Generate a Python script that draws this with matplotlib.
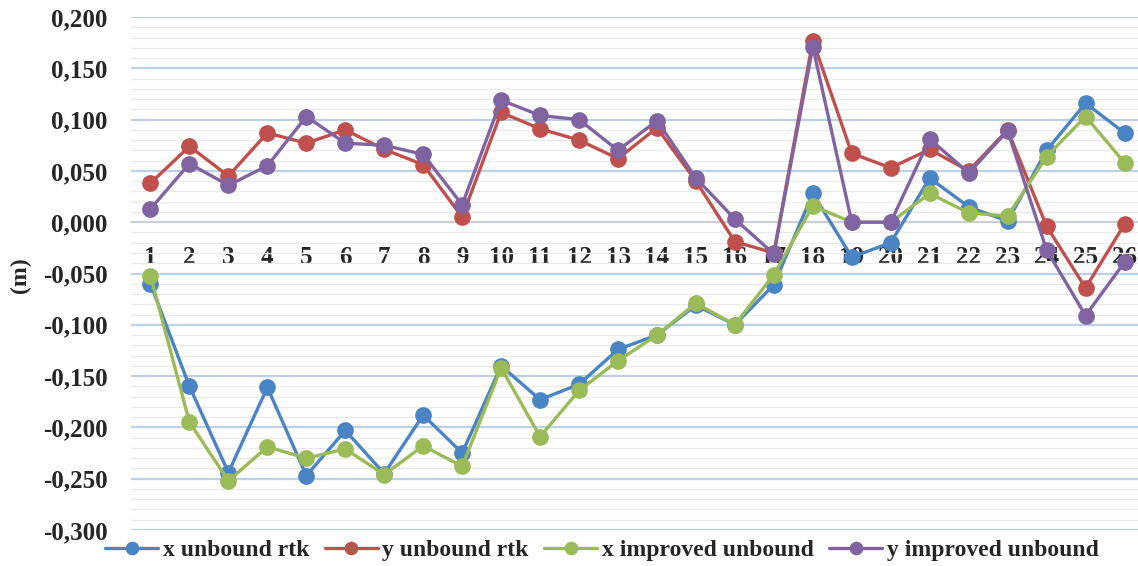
import matplotlib
matplotlib.use("Agg")
import matplotlib.pyplot as plt
from matplotlib.ticker import MultipleLocator, FuncFormatter

points = list(range(1, 27))
x_unbound_rtk = [-0.060, -0.160, -0.244, -0.161, -0.247, -0.203, -0.245, -0.188, -0.225, -0.140,
                 -0.173, -0.158, -0.124, -0.110, -0.081, -0.100, -0.061, 0.028, -0.034, -0.020,
                 0.043, 0.015, 0.001, 0.070, 0.116, 0.087]
y_unbound_rtk = [0.038, 0.074, 0.045, 0.087, 0.077, 0.090, 0.071, 0.056, 0.005, 0.107,
                 0.091, 0.080, 0.062, 0.092, 0.040, -0.019, -0.030, 0.177, 0.067, 0.053,
                 0.071, 0.050, 0.090, -0.004, -0.064, -0.002]
x_improved_unbound = [-0.052, -0.195, -0.252, -0.219, -0.230, -0.221, -0.246, -0.218, -0.238, -0.142,
                      -0.209, -0.164, -0.135, -0.110, -0.079, -0.100, -0.051, 0.016, 0.000, 0.000,
                      0.028, 0.009, 0.006, 0.064, 0.103, 0.058]
y_improved_unbound = [0.013, 0.057, 0.036, 0.055, 0.103, 0.077, 0.075, 0.066, 0.017, 0.119,
                      0.104, 0.100, 0.070, 0.099, 0.043, 0.003, -0.031, 0.171, 0.000, 0.000,
                      0.081, 0.048, 0.089, -0.027, -0.091, -0.039]

series_names = ["x unbound rtk", "y unbound rtk", "x improved unbound", "y improved unbound"]
colors = ["#4a84c4", "#c0504d", "#9bbb59", "#8064a2"]
y_label = "(m)"

FONT = "Liberation Serif"
TXT = "#262626"

W, H = 1138, 566
fig = plt.figure(figsize=(W / 100, H / 100), dpi=100)
left, right, top, bottom = 131, 1144, 17, 530
ax = fig.add_axes([left / W, 1 - bottom / H, (right - left) / W, (bottom - top) / H])

for vals, name, c in zip([x_unbound_rtk, y_unbound_rtk, x_improved_unbound, y_improved_unbound],
                         series_names, colors):
    ax.plot(points, vals, color=c, lw=2.4, marker="o", markersize=11, label=name,
            solid_capstyle="round", zorder=3)

ax.set_xlim(0.5, 26.5)
ax.set_ylim(-0.3, 0.2)
ax.yaxis.set_major_locator(MultipleLocator(0.05))
ax.yaxis.set_minor_locator(MultipleLocator(0.01))
ax.yaxis.set_major_formatter(FuncFormatter(lambda v, p: f"{v:.3f}".replace(".", ",").replace("-0,000", "0,000")))
ax.grid(which="minor", axis="y", color="#ebebeb", lw=1.0, zorder=0)
ax.grid(which="major", axis="y", color="#bcd0e8", lw=1.6, zorder=1)
ax.set_xticks(points)
ax.set_xticklabels([str(p) for p in points])

for s in ["top", "right", "left"]:
    ax.spines[s].set_visible(False)
ax.spines["bottom"].set_position(("data", 0))
ax.spines["bottom"].set_color("#d0d0d0")
ax.spines["bottom"].set_linewidth(1.2)
ax.spines["bottom"].set_zorder(2)

ax.tick_params(axis="y", which="both", length=0, pad=17)
ax.tick_params(axis="x", which="both", length=0, pad=17)
for lab in ax.get_yticklabels() + ax.get_xticklabels():
    lab.set_fontfamily(FONT)
    lab.set_fontweight("bold")
    lab.set_fontsize(18)
    lab.set_color(TXT)

fig.text(20 / W, 1 - 275 / H, y_label, rotation=90, ha="center", va="center",
         fontfamily=FONT, fontweight="bold", fontsize=17, color=TXT)

fig.legend(loc="center", bbox_to_anchor=(602 / W, 1 - 550 / H), ncol=4, frameon=False,
           prop={"family": FONT, "weight": "bold", "size": 17}, handlelength=2.25,
           handletextpad=0.2, columnspacing=0.65, labelcolor=TXT, markerscale=0.8)

fig.savefig("out.png", dpi=100)
